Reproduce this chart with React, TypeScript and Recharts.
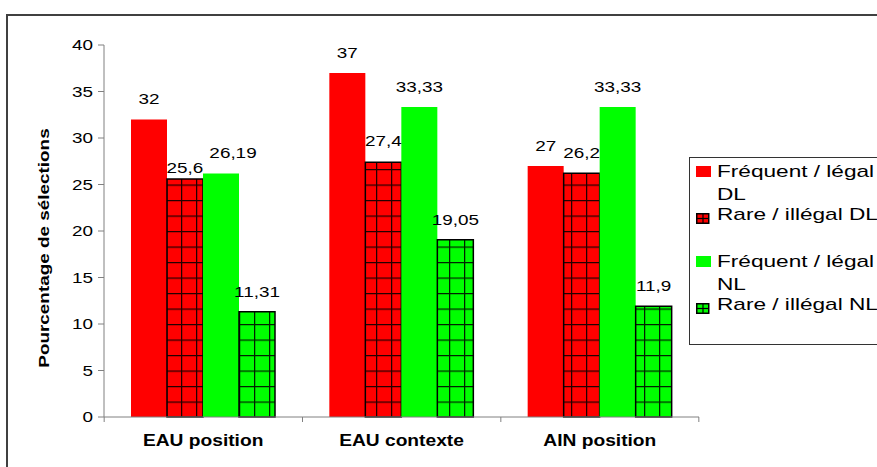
import { BarChart, Bar, XAxis, YAxis, LabelList } from "recharts"

const categories = ["EAU position", "EAU contexte", "AIN position"]
const frequentDL = [32, 37, 27]
const rareDL = [25.6, 27.4, 26.2]
const frequentNL = [26.19, 33.33, 33.33]
const rareNL = [11.31, 19.05, 11.9]
const yTicks = [0, 5, 10, 15, 20, 25, 30, 35, 40]

const data = categories.map((name, i) => ({
  name,
  fdl: frequentDL[i],
  rdl: rareDL[i],
  fnl: frequentNL[i],
  rnl: rareNL[i],
}))

const fmt = (v: any) => String(v).replace(".", ",")

// the source image is stretched sideways, so text gets a horizontal scale
const STRETCH = 1.26

const SText = ({ x, y, anchor, sx = STRETCH, children, ...rest }: any) => (
  <text transform={`translate(${x},${y}) scale(${sx},1)`} textAnchor={anchor} fill="#000" {...rest}>
    {children}
  </text>
)

// label nudges (Excel labels were moved by hand in a few spots)
const rdlLift = [6, 16, 15]
const fnlShift = [12, 0, 0]

const makeLabel = (lift: number[] | null, shift: number[] | null) => (props: any) => {
  const { x, y, width, value, index } = props
  const up = lift ? lift[index] : 15
  const dx = shift ? shift[index] : 0
  return (
    <SText x={x + width / 2 + dx} y={y - up} anchor="middle" fontSize={15}>
      {fmt(value)}
    </SText>
  )
}

const CatTick = (props: any) => {
  const { x, y, payload, index } = props
  const half = 99
  return (
    <g>
      <line x1={x - half} y1={y - 8} x2={x - half} y2={y - 3} stroke="#808080" />
      {index === categories.length - 1 && (
        <line x1={x + half} y1={y - 8} x2={x + half} y2={y - 3} stroke="#808080" />
      )}
      <SText x={x} y={y + 21} anchor="middle" fontWeight="bold" fontSize={16} sx={1.2}>
        {payload.value}
      </SText>
    </g>
  )
}

const ValTick = (props: any) => {
  const { x, y, payload } = props
  return (
    <SText x={x} y={y + 5} anchor="end" fontSize={15}>
      {payload.value}
    </SText>
  )
}

const legendItems = [
  { fill: "#ff0000", lines: ["Fréquent / légal", "DL"], hatch: false, top: 159 },
  { fill: "#ff0000", lines: ["Rare / illégal DL"], hatch: true, top: 205 },
  { fill: "#00ff00", lines: ["Fréquent / légal", "NL"], hatch: false, top: 249 },
  { fill: "#00ff00", lines: ["Rare / illégal NL"], hatch: true, top: 295 },
]

const LegendBox = () => (
  <>
    <div
      style={{
        position: "absolute",
        left: 689,
        top: 157,
        border: "1px solid #333",
        width: 220,
        height: 188,
        boxSizing: "border-box",
        background: "#fff",
      }}
    />
    {legendItems.map((it, i) => (
      <div
        key={i}
        style={{
          position: "absolute",
          left: 696,
          top: it.top,
          display: "flex",
          fontFamily: "Liberation Sans, Arial, sans-serif",
          fontSize: 17,
          color: "#000",
          whiteSpace: "nowrap",
        }}
      >
        <div style={{ width: 21, flex: "none", paddingTop: it.hatch ? 8 : 7 }}>
          <svg width={15} height={11} style={{ display: "block" }}>
            {it.hatch ? (
              <g>
                <rect x={0.75} y={0.75} width={12} height={9.5} fill={it.fill} stroke="#000" strokeWidth={1.5} />
                <line x1={7} y1={0} x2={7} y2={11} stroke="#000" strokeWidth={1.2} />
                <line x1={0} y1={5.5} x2={13} y2={5.5} stroke="#000" strokeWidth={1.2} />
              </g>
            ) : (
              <rect x={0} y={0} width={15} height={11} fill={it.fill} />
            )}
          </svg>
        </div>
        <div style={{ transform: "scaleX(1.33)", transformOrigin: "left top" }}>
          {it.lines.map((l, j) => (
            <div key={j} style={{ lineHeight: j === 0 && it.lines.length > 1 ? "26px" : "20px" }}>
              {l}
            </div>
          ))}
        </div>
      </div>
    ))}
  </>
)

export default function App() {
  return (
    <div
      style={{
        position: "absolute",
        left: 0,
        top: 0,
        width: 877,
        height: 467,
        overflow: "hidden",
        background: "#fff",
        fontFamily: "Liberation Sans, Arial, sans-serif",
      }}
    >
      <div
        style={{
          position: "absolute",
          left: 6,
          top: 14,
          width: 900,
          height: 500,
          border: "2px solid #404040",
        }}
      />
      <div style={{ position: "absolute", left: 0, top: 0 }}>
        <BarChart
          width={877}
          height={467}
          data={data}
          margin={{ top: 45, right: 178, left: 44, bottom: 20 }}
          barSize={36}
          barGap={0}
        >
          <defs>
            <pattern id="hatchRed" width={15} height={15.5} patternUnits="userSpaceOnUse" x={166} y={14}>
              <rect width={15} height={15.5} fill="#ff0000" />
              <path d="M0 0 V16 M0 0 H15" stroke="#200000" strokeWidth={2.5} />
            </pattern>
            <pattern id="hatchGreen" width={15} height={15.5} patternUnits="userSpaceOnUse" x={239} y={14}>
              <rect width={15} height={15.5} fill="#00ff00" />
              <path d="M0 0 V16 M0 0 H15" stroke="#002000" strokeWidth={2.5} />
            </pattern>
          </defs>
          <XAxis
            dataKey="name"
            axisLine={{ stroke: "#808080" }}
            tickLine={false}
            tick={<CatTick />}
            height={30}
            interval={0}
          />
          <YAxis
            domain={[0, 40]}
            ticks={yTicks}
            width={60}
            axisLine={{ stroke: "#808080" }}
            tickLine={{ stroke: "#808080" }}
            tickSize={6}
            tickMargin={5}
            tick={<ValTick />}
            label={{
              content: () => (
                <text
                  transform="translate(49,248) rotate(-90) scale(1.22,1)"
                  textAnchor="middle"
                  fontWeight="bold"
                  fontSize={15.5}
                  fill="#000"
                >
                  Pourcentage de sélections
                </text>
              ),
            }}
          />
          <Bar dataKey="fdl" fill="#ff0000" isAnimationActive={false}>
            <LabelList dataKey="fdl" content={makeLabel(null, null)} />
          </Bar>
          <Bar dataKey="rdl" fill="url(#hatchRed)" stroke="#000" strokeWidth={1.5} isAnimationActive={false}>
            <LabelList dataKey="rdl" content={makeLabel(rdlLift, null)} />
          </Bar>
          <Bar dataKey="fnl" fill="#00ff00" isAnimationActive={false}>
            <LabelList dataKey="fnl" content={makeLabel(null, fnlShift)} />
          </Bar>
          <Bar dataKey="rnl" fill="url(#hatchGreen)" stroke="#000" strokeWidth={1.5} isAnimationActive={false}>
            <LabelList dataKey="rnl" content={makeLabel(null, null)} />
          </Bar>
        </BarChart>
      </div>
      <LegendBox />
    </div>
  )
}
